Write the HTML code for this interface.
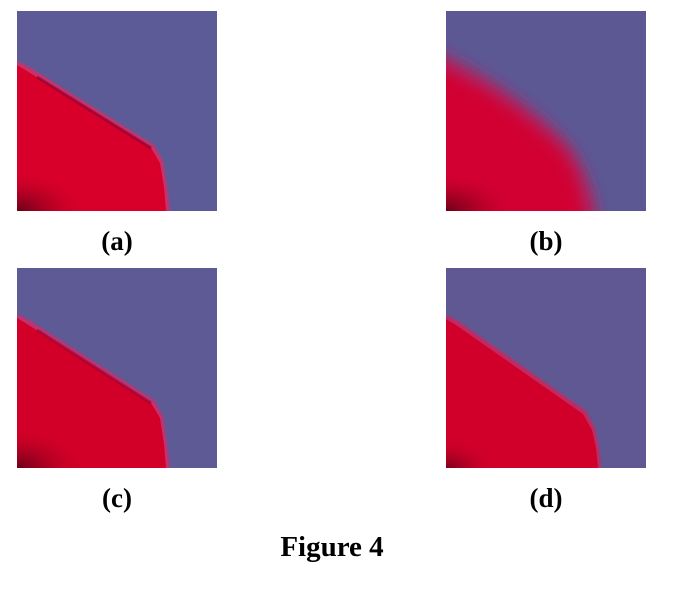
<!DOCTYPE html>
<html><head><meta charset="utf-8"><style>
html,body{margin:0;padding:0;background:#fff;width:679px;height:598px;overflow:hidden}
svg{display:block}
</style></head><body>
<svg width="679" height="598" viewBox="0 0 679 598">
<defs>
<radialGradient id="dk" cx="0" cy="1" r="0.5">
<stop offset="0" stop-color="#6a0018"/><stop offset="0.5" stop-color="#a00020" stop-opacity="0.6"/><stop offset="1" stop-color="#d40028" stop-opacity="0"/></radialGradient>
<filter id="bl" x="-20%" y="-20%" width="140%" height="140%"><feGaussianBlur stdDeviation="7"/></filter>
<filter id="sl" x="-5%" y="-5%" width="110%" height="110%"><feGaussianBlur stdDeviation="0.8"/></filter>
<clipPath id="ca"><rect x="0" y="0" width="200" height="200"/></clipPath>
</defs>
<g transform="translate(17,11)" clip-path="url(#ca)">
<rect width="200" height="200" fill="#5d5b97"/>
<polygon points="0,50 12,56 137,134 146,150 150,175 153,200 0,200" fill="#c8306a" filter="url(#sl)"/>
<polygon points="0,54 10,60 134,137 143,152 147,176 149,200 0,200" fill="#d8002a"/>
<polyline points="20,66 134,137" stroke="#900030" stroke-width="3" fill="none" opacity="0.7"/>
<rect x="0" y="120" width="140" height="80" fill="url(#dk)"/>
</g>
<g transform="translate(446,11)" clip-path="url(#ca)">
<rect width="200" height="200" fill="#5c5894"/>
<path d="M-20,35 Q60,70 120,130 Q145,160 155,220 L-20,220 Z" fill="#b02060" filter="url(#bl)"/>
<path d="M-20,50 Q60,85 115,140 Q135,165 140,220 L-20,220 Z" fill="#d20030" filter="url(#bl)"/>
<rect x="0" y="120" width="140" height="80" fill="url(#dk)"/>
</g>
<g transform="translate(17,268)" clip-path="url(#ca)">
<rect width="200" height="200" fill="#5e5a96"/>
<polygon points="0,46 12,52 137,132 146,148 150,175 153,200 0,200" fill="#c03070" filter="url(#sl)"/>
<polygon points="0,50 10,56 134,135 143,150 147,176 149,200 0,200" fill="#d20028"/>
<polyline points="20,62 134,135" stroke="#980030" stroke-width="3" fill="none" opacity="0.6"/>
<rect x="0" y="120" width="140" height="80" fill="url(#dk)"/>
</g>
<g transform="translate(446,268)" clip-path="url(#ca)">
<rect width="200" height="200" fill="#5f5893"/>
<polygon points="0,47 12,53 140,143 149,160 153,180 155,200 0,200" fill="#c02a62" filter="url(#sl)"/>
<polygon points="0,51 10,57 137,146 146,162 150,180 152,200 0,200" fill="#d0002a"/>
<rect x="0" y="140" width="100" height="60" fill="url(#dk)" opacity="0.8"/>
</g>
<g font-family="'Liberation Serif',serif" font-weight="bold" fill="#000" text-anchor="middle">
<text x="117" y="250" font-size="27">(a)</text>
<text x="546" y="250" font-size="27">(b)</text>
<text x="117" y="507" font-size="27">(c)</text>
<text x="546" y="507" font-size="27">(d)</text>
<text x="332" y="556" font-size="29">Figure 4</text>
</g>
</svg>
</body></html>
